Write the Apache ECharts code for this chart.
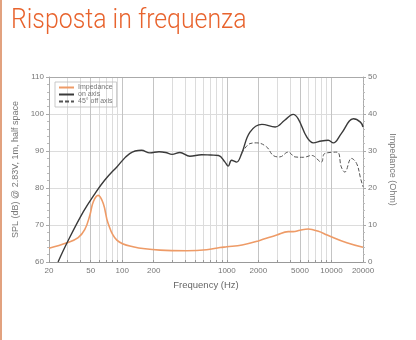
<!DOCTYPE html>
<html>
<head>
<meta charset="utf-8">
<script src="https://cdn.jsdelivr.net/npm/echarts@6/dist/echarts.min.js"></script>
<style>
  html, body { margin: 0; padding: 0; background: #fff; }
  #chart { width: 416px; height: 340px; }
</style>
</head>
<body>
<div id="chart"></div>
<script>
// frequency axis ticks (Hz)
const gridFreqs = [20, 30, 40, 50, 60, 70, 80, 90, 100, 200, 300, 400, 500, 600, 700, 800, 900,
  1000, 2000, 3000, 4000, 5000, 6000, 7000, 8000, 9000, 10000, 20000]
const labelFreqs = [20, 50, 100, 200, 1000, 2000, 5000, 10000, 20000]

// on axis SPL (dB)
const onAxisFreq = [24.4, 30, 42.6, 55, 68, 89, 118, 153, 184, 225, 260, 300, 356, 444, 574, 700, 834,
  961, 1030, 1110, 1240, 1384, 1664, 2165, 2900, 3570, 4300, 4810, 5800, 6700, 8000, 9300, 10400,
  12400, 16200, 18900, 20000]
const onAxisSpl = [60, 65.4, 73.6, 78.5, 82.1, 85.7, 89.3, 90.2, 89.5, 89.8, 89.6, 89.1, 89.6, 88.6, 89.0, 88.9, 88.8,
  87.0, 85.9, 87.5, 87.0, 89.3, 95.1, 97.2, 96.5, 98.3, 99.9, 98.7, 93.8, 92.2, 92.7, 92.9, 92.2,
  94.7, 98.7, 97.8, 96.5]

// 45° off axis SPL (dB)
const offAxisFreq = [1384, 1664, 1930, 2400, 2770, 3200, 3860, 4490, 5400, 6460, 8000, 8600, 11300, 12400,
  13400, 15500, 17400, 19000, 20000]
const offAxisSpl = [89.3, 92.0, 92.2, 91.1, 88.8, 88.4, 89.7, 88.4, 88.3, 88.8, 87.0, 89.3, 89.7, 85.7,
  84.3, 88.0, 86.6, 82.5, 80.3]

// impedance (Ohm)
const impFreq = [20, 29.7, 38, 44, 49.2, 53, 59, 66, 73.5, 89, 127, 230, 413, 640, 861,
  1000, 1400, 2000, 3000, 3860, 4300, 5000, 6000, 7500, 9100, 14000, 20000]
const impOhm = [3.7, 5.2, 6.6, 8.8, 12.7, 16.3, 18.0, 15.8, 10.4, 5.9, 4.1, 3.2, 3.05, 3.3, 3.9,
  4.1, 4.6, 5.7, 7.3, 8.2, 8.2, 8.6, 8.9, 8.3, 7.3, 5.2, 4.0]

const pairs = (xs, ys) => xs.map((x, i) => [x, ys[i]])

const labelFont = { fontFamily: 'Liberation Sans', fontSize: 8, color: '#777' }

const chart = echarts.init(document.getElementById('chart'))
chart.setOption({
  animation: false,
  graphic: [
    { type: 'rect', shape: { x: 0, y: 0, width: 2, height: 340 }, style: { fill: '#e2a27f' } },
    {
      type: 'text', x: 11, y: 8, scaleX: 0.92,
      style: { text: 'Risposta in frequenza', fill: '#e8632d', fontSize: 27, fontWeight: 300, fontFamily: 'Roboto' }
    }
  ],
  grid: { left: 49, right: 53, top: 77, bottom: 78 },
  legend: {
    orient: 'vertical',
    left: 55,
    top: 82,
    itemWidth: 15,
    itemHeight: 6,
    itemGap: 0,
    padding: [2, 4, 2, 3],
    borderColor: '#bbb',
    borderWidth: 0.8,
    itemStyle: { opacity: 0 },
    textStyle: { fontFamily: 'Liberation Sans', fontSize: 7, color: '#777', padding: [0, 0, 0, -1] },
    data: ['Impedance', 'on axis', '45° off axis']
  },
  xAxis: [
    {
      type: 'log',
      min: 20,
      max: 20000,
      name: 'Frequency (Hz)',
      nameLocation: 'middle',
      nameGap: 16,
      nameTextStyle: { fontFamily: 'Liberation Sans', fontSize: 9.5, color: '#666' },
      axisLine: { lineStyle: { color: '#999', width: 1 } },
      axisTick: { customValues: gridFreqs, length: 2, inside: true, lineStyle: { color: '#999' } },
      axisLabel: Object.assign({ customValues: labelFreqs, margin: 5, formatter: v => String(v) }, labelFont),
      splitLine: { show: true, lineStyle: { color: '#dcdcdc', width: 1 } }
    },
    {
      type: 'log',
      min: 20,
      max: 20000,
      position: 'top',
      axisLine: { show: true, lineStyle: { color: '#aaa', width: 1 } },
      axisTick: { show: false, customValues: labelFreqs },
      axisLabel: { show: false },
      splitLine: { show: true, lineStyle: { color: '#c4c4c4', width: 1 } }
    }
  ],
  yAxis: [
    {
      type: 'value',
      min: 60,
      max: 110,
      interval: 10,
      name: 'SPL (dB) @ 2.83V, 1m, half space',
      nameLocation: 'middle',
      nameGap: 16,
      nameTextStyle: { fontFamily: 'Liberation Sans', fontSize: 9, color: '#777' },
      axisLine: { show: true, lineStyle: { color: '#aaa', width: 1 } },
      axisTick: { show: true, length: 3, inside: false, lineStyle: { color: '#aaa' } },
      minorTick: { show: true, splitNumber: 5, length: 2, lineStyle: { color: '#bbb' } },
      axisLabel: Object.assign({ margin: 5 }, labelFont),
      splitLine: { show: true, lineStyle: { color: '#dcdcdc', width: 1 } }
    },
    {
      type: 'value',
      min: 0,
      max: 50,
      interval: 10,
      position: 'right',
      name: 'Impedance (Ohm)',
      nameLocation: 'middle',
      nameRotate: -90,
      nameGap: 21,
      nameTextStyle: { fontFamily: 'Liberation Sans', fontSize: 9, color: '#777' },
      axisLine: { show: true, lineStyle: { color: '#aaa', width: 1, type: [2, 1] } },
      axisTick: { show: true, length: 3, lineStyle: { color: '#aaa' } },
      minorTick: { show: true, splitNumber: 5, length: 2, lineStyle: { color: '#bbb' } },
      axisLabel: Object.assign({ margin: 5 }, labelFont),
      splitLine: { show: false }
    }
  ],
  series: [
    {
      name: 'Impedance',
      type: 'line',
      yAxisIndex: 1,
      data: pairs(impFreq, impOhm),
      smooth: 0.4,
      symbol: 'none',
      lineStyle: { color: '#ee9b67', width: 1.6 },
      itemStyle: { color: '#ee9b67' },
      z: 3
    },
    {
      name: 'on axis',
      type: 'line',
      data: pairs(onAxisFreq, onAxisSpl),
      smooth: 0.4,
      symbol: 'none',
      lineStyle: { color: '#3a3a3a', width: 1.4 },
      itemStyle: { color: '#3a3a3a' },
      z: 4
    },
    {
      name: '45° off axis',
      type: 'line',
      data: pairs(offAxisFreq, offAxisSpl),
      smooth: 0.4,
      symbol: 'none',
      lineStyle: { color: '#555', width: 1, type: [4, 2] },
      itemStyle: { color: '#555' },
      z: 4
    }
  ]
})
</script>
</body>
</html>
